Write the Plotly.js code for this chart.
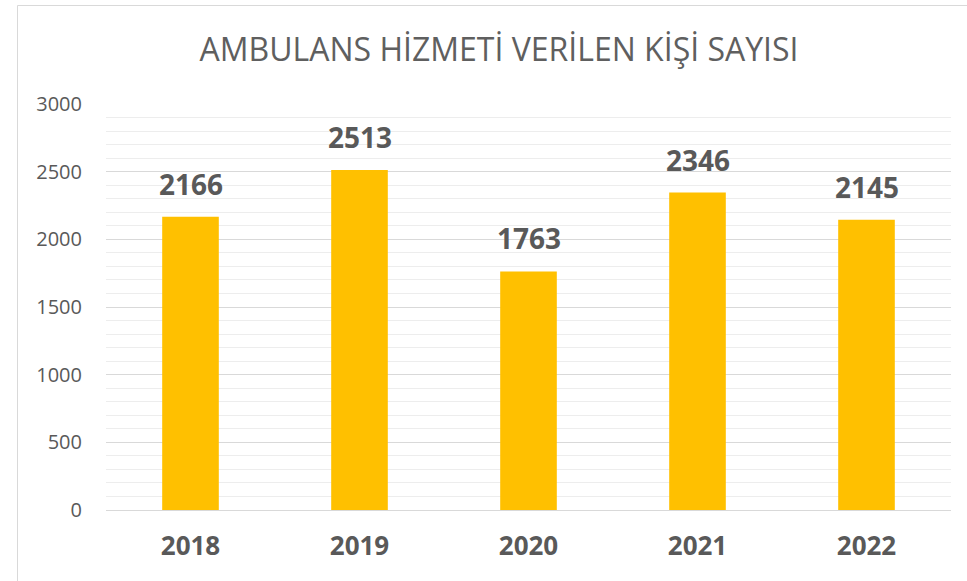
<!DOCTYPE html>
<html>
<head>
<meta charset="utf-8">
<script src="https://cdn.plot.ly/plotly-3.0.1.min.js"></script>
<style>
html,body{margin:0;padding:0;background:#fff;}
#chart{width:967px;height:581px;}
</style>
</head>
<body>
<div id="chart"></div>
<script>
const categories = ["2018", "2019", "2020", "2021", "2022"];
const values = [2166, 2513, 1763, 2346, 2145];
const yTickValues = [0, 500, 1000, 1500, 2000, 2500, 3000];
const titleText = "AMBULANS HİZMETİ VERİLEN KİŞİ SAYISI";

const L = 106, R = 16, T = 104, B = 71, W = 967, H = 581;
const pw = W - L - R, ph = H - T - B;
const px = v => (v - L) / pw;
const py = v => (H - B - v) / ph;
const FONT = "Open Sans, Liberation Sans, sans-serif";

const trace = {
  type: "bar",
  x: categories,
  y: values,
  marker: {color: "#FFC000"},
  hoverinfo: "none"
};

const labelAnnotations = categories.map((c, i) => ({
  x: i, y: values[i], xref: "x", yref: "y",
  text: String(values[i]),
  showarrow: false,
  xanchor: "center", yanchor: "bottom",
  yshift: 12,
  font: {family: FONT, size: 28, color: "#595959", weight: 700}
}));

const layout = {
  width: W, height: H,
  margin: {l: L, r: R, t: T, b: B, pad: 0},
  paper_bgcolor: "#fff",
  plot_bgcolor: "#fff",
  bargap: 0.665,
  showlegend: false,
  title: {
    text: titleText,
    font: {family: FONT, size: 32, color: "#5F5F5F"},
    x: 499 / W, xref: "container", xanchor: "center",
    y: 1 - 50 / H, yref: "container", yanchor: "middle"
  },
  xaxis: {
    type: "category",
    categoryarray: categories,
    range: [-0.5, categories.length - 0.5],
    autorange: false,
    showgrid: false,
    zeroline: false,
    showline: false,
    ticks: "",
    tickfont: {family: FONT, size: 26, color: "#595959", weight: 700},
    ticklabelstandoff: 18
  },
  yaxis: {
    range: [0, 3000],
    autorange: false,
    tickvals: yTickValues,
    ticktext: yTickValues.map(String),
    showgrid: true,
    gridcolor: "#D9D9D9",
    gridwidth: 1,
    zeroline: true,
    zerolinecolor: "#D9D9D9",
    zerolinewidth: 1,
    showline: false,
    ticks: "",
    tickfont: {family: FONT, size: 20, color: "#595959"},
    ticklabelstandoff: 23,
    minor: {dtick: 100, showgrid: true, gridcolor: "#EDEDED", gridwidth: 1, ticks: ""}
  },
  annotations: labelAnnotations,
  shapes: [
    {type: "line", xref: "paper", yref: "paper", x0: px(17.5), x1: px(17.5), y0: py(5.5), y1: py(581), line: {color: "#D9D9D9", width: 1}},
    {type: "line", xref: "paper", yref: "paper", x0: px(17.5), x1: px(967), y0: py(5.5), y1: py(5.5), line: {color: "#D9D9D9", width: 1}}
  ]
};

Plotly.newPlot("chart", [trace], layout, {displayModeBar: false, staticPlot: true});
</script>
</body>
</html>
